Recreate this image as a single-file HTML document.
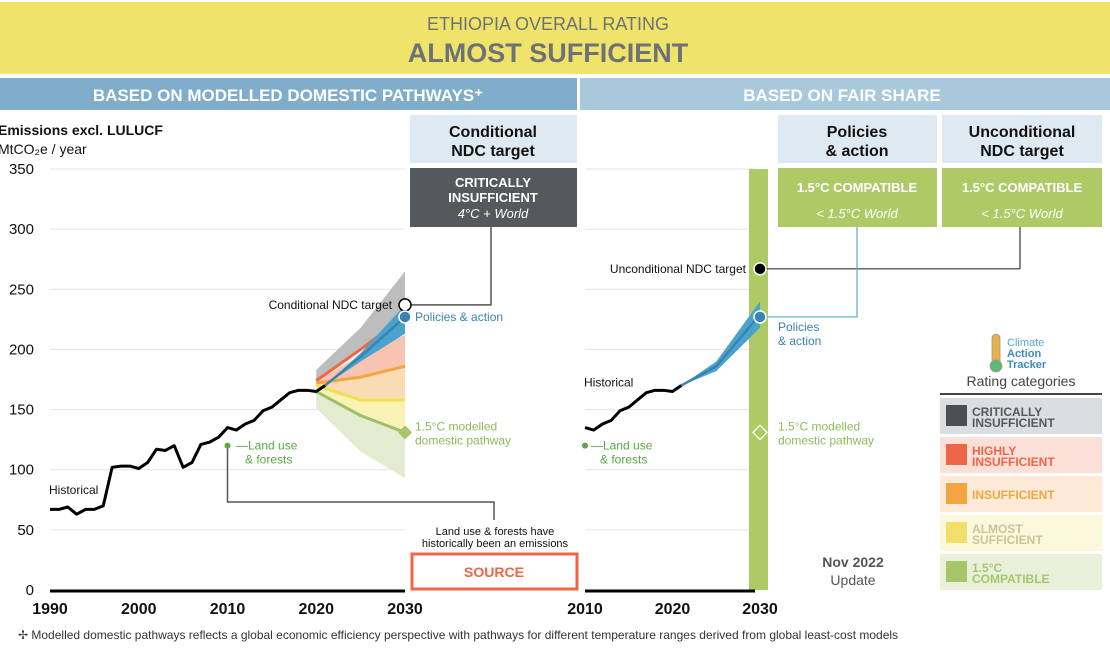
<!DOCTYPE html>
<html><head><meta charset="utf-8"><style>
body{margin:0;width:1110px;height:650px;overflow:hidden;background:#fff;font-family:"Liberation Sans",sans-serif}
svg{display:block}
text{font-family:"Liberation Sans",sans-serif}
</style></head><body>
<svg id="c" width="1110" height="650" viewBox="0 0 1110 650" xmlns="http://www.w3.org/2000/svg">
<rect x="0" y="2" width="1110" height="72" fill="#f0e36a"/>
<text x="548" y="30" text-anchor="middle" font-size="18" fill="#6d7277">ETHIOPIA OVERALL RATING</text>
<text x="548" y="62" text-anchor="middle" font-size="27" font-weight="bold" fill="#6d7277">ALMOST SUFFICIENT</text>
<rect x="0" y="78" width="577" height="32" fill="#80adc9"/>
<text x="288" y="101" text-anchor="middle" font-size="17" font-weight="bold" fill="#fff">BASED ON MODELLED DOMESTIC PATHWAYS⁺</text>
<rect x="580" y="78" width="530" height="32" fill="#a8c9dc"/>
<text x="842" y="101" text-anchor="middle" font-size="17" font-weight="bold" fill="#fff">BASED ON FAIR SHARE</text>
<text x="-2" y="135" font-size="14" font-weight="bold" fill="#111">Emissions excl. LULUCF</text>
<text x="-2" y="154" font-size="14" fill="#111">MtCO₂e / year</text>
<rect x="410" y="115" width="167" height="48" fill="#dfe9f1"/>
<text x="493" y="137" text-anchor="middle" font-size="16" font-weight="bold" fill="#111">Conditional</text>
<text x="493" y="156" text-anchor="middle" font-size="16" font-weight="bold" fill="#111">NDC target</text>
<rect x="410" y="168" width="167" height="59" fill="#55595c"/>
<text x="493" y="187" text-anchor="middle" font-size="13" font-weight="bold" fill="#fff">CRITICALLY</text>
<text x="493" y="202" text-anchor="middle" font-size="13" font-weight="bold" fill="#fff">INSUFFICIENT</text>
<text x="493" y="218" text-anchor="middle" font-size="13" font-style="italic" fill="#fff">4°C + World</text>
<rect x="778" y="115" width="159" height="48" fill="#dfe9f1"/>
<text x="857" y="137" text-anchor="middle" font-size="16" font-weight="bold" fill="#111">Policies</text>
<text x="857" y="156" text-anchor="middle" font-size="16" font-weight="bold" fill="#111">&amp; action</text>
<rect x="942" y="115" width="160" height="48" fill="#dfe9f1"/>
<text x="1022" y="137" text-anchor="middle" font-size="16" font-weight="bold" fill="#111">Unconditional</text>
<text x="1022" y="156" text-anchor="middle" font-size="16" font-weight="bold" fill="#111">NDC target</text>
<rect x="778" y="168" width="159" height="59" fill="#afc966"/>
<text x="857" y="192" text-anchor="middle" font-size="13" font-weight="bold" fill="#fff">1.5°C COMPATIBLE</text>
<text x="857" y="218" text-anchor="middle" font-size="13" font-style="italic" fill="#fff">&lt; 1.5°C World</text>
<rect x="942" y="168" width="160" height="59" fill="#afc966"/>
<text x="1022" y="192" text-anchor="middle" font-size="13" font-weight="bold" fill="#fff">1.5°C COMPATIBLE</text>
<text x="1022" y="218" text-anchor="middle" font-size="13" font-style="italic" fill="#fff">&lt; 1.5°C World</text>
<g id="grid"></g>
<g id="plot"></g>
<g id="ann"></g>
<text x="495" y="535" text-anchor="middle" font-size="11" fill="#111">Land use &amp; forests have</text>
<text x="495" y="547" text-anchor="middle" font-size="11" fill="#111">historically been an emissions</text>
<rect x="412" y="554" width="165" height="35" fill="#fff" stroke="#ef6548" stroke-width="3"/>
<text x="494" y="577" text-anchor="middle" font-size="14" font-weight="bold" fill="#ef6548">SOURCE</text>
<text x="853" y="567" text-anchor="middle" font-size="14" font-weight="bold" fill="#555">Nov 2022</text>
<text x="853" y="585" text-anchor="middle" font-size="14" fill="#555">Update</text>
<g>
<rect x="992" y="334" width="8" height="30" rx="4" fill="#e8b04a" stroke="#999" stroke-width="0.8"/>
<circle cx="996" cy="366" r="6" fill="#5fb87a" stroke="#999" stroke-width="0.8"/>
<text x="1007" y="346" font-size="11" fill="#5aa8c8">Climate</text>
<text x="1007" y="357" font-size="11" font-weight="bold" fill="#3a8bbf">Action</text>
<text x="1007" y="368" font-size="11" font-weight="bold" fill="#3a8bbf">Tracker</text>
</g>
<text x="1021" y="386" text-anchor="middle" font-size="14" fill="#444">Rating categories</text>
<line x1="940" y1="394" x2="1102" y2="394" stroke="#444" stroke-width="2"/>
<g id="legend"></g>
<text x="18" y="639" font-size="12" fill="#333">✢  Modelled domestic pathways reflects a global economic efficiency perspective with pathways for different temperature ranges derived from global least-cost models</text>
</svg>
<script>
const years=[1990,1991,1992,1993,1994,1995,1996,1997,1998,1999,2000,2001,2002,2003,2004,2005,2006,2007,2008,2009,2010,2011,2012,2013,2014,2015,2016,2017,2018,2019,2020,2021];
const historical=[67,67,69,63,67,67,70,102,103,103,101,106,117,116,120,102,106,121,123,127,135,133,138,141,149,152,158,164,166,166,165,170];
const projYears=[2020,2025,2030];
const greyTop=[183,218,265];
const redLine=[174,200,228];
const salmonTop=[174,195,212];
const orangeLine=[172,177,186];
const yellowLine=[170,158,158];
const greenLine=[165,145,131];
const greenLow=[151,115,93];
const blueYears=[2021,2025,2030];
const blueUpper=[170,197,237];
const blueLower=[170,190,213];
const blueMid=[170,194,227];
const rBlueUpper=[170,190,240];
const rBlueLower=[170,182,218];
const rBlueMid=[170,186,229];
const condNDC=237, policies2030=227, uncondNDC=267, pathway15=131;
const yTicks=[0,50,100,150,200,250,300,350];
const xTicksL=[1990,2000,2010,2020,2030];
const xTicksR=[2010,2020,2030];
const legendLabels=[["CRITICALLY","INSUFFICIENT"],["HIGHLY","INSUFFICIENT"],["INSUFFICIENT"],["ALMOST","SUFFICIENT"],["1.5°C","COMPATIBLE"]];

const NS="http://www.w3.org/2000/svg";
const y=v=>590-v*421/350;
const xL=t=>50+(t-1990)*355/40;
const xR=t=>585+(t-2010)*175/20;
function mk(tag,attrs,parent,txt){const e=document.createElementNS(NS,tag);for(const k in attrs)e.setAttribute(k,attrs[k]);if(txt!==undefined)e.textContent=txt;document.getElementById(parent).appendChild(e);return e;}
const pts=(xf,xs,vs)=>xs.map((t,i)=>xf(t)+","+y(vs[i])).join(" ");
const band=(xf,xs,up,lo)=>pts(xf,xs,up)+" "+pts(xf,xs.slice().reverse(),lo.slice().reverse());

yTicks.forEach(v=>{
 if(v>0){let g=mk('line',{x1:50,x2:405,y1:y(v),y2:y(v),stroke:'#e4e4e4','stroke-width':1},'grid');
 let g2=mk('line',{x1:585,x2:755,y1:y(v),y2:y(v),stroke:'#e4e4e4','stroke-width':1},'grid');}
 let t=mk('text',{x:34,y:y(v)+5,'text-anchor':'end','font-size':15,fill:'#111'},'grid',v);
 
});
xTicksL.forEach(v=>{let t=mk('text',{x:xL(v),y:614,'text-anchor':'middle','font-size':16,'font-weight':'bold',fill:'#111'},'grid',v);});
xTicksR.forEach(v=>{let t=mk('text',{x:xR(v),y:614,'text-anchor':'middle','font-size':16,'font-weight':'bold',fill:'#111'},'grid',v);});

let gb=mk('rect',{x:749,y:169,width:19,height:421,fill:'#afc966'},'plot');

let e;
e=mk('polygon',{points:band(xL,projYears,greyTop,redLine),fill:'#bdbdbd'},'plot');
e=mk('polygon',{points:band(xL,projYears,salmonTop,orangeLine),fill:'#f7c4b2'},'plot');
e=mk('polygon',{points:band(xL,projYears,orangeLine,yellowLine),fill:'#f9dcb4'},'plot');
e=mk('polygon',{points:band(xL,projYears,yellowLine,greenLine),fill:'#f8f2b4'},'plot');
e=mk('polygon',{points:band(xL,projYears,greenLine,greenLow),fill:'#e3ecd0'},'plot');
[[redLine,'#ef6548','red-line'],[orangeLine,'#f2a541','orange-line'],[yellowLine,'#f0e050','yellow-line'],[greenLine,'#9fc06a','green-line']].forEach(([d,c,n])=>{
 let l=mk('polyline',{points:pts(xL,projYears,d),fill:'none',stroke:c,'stroke-width':3},'plot');});
e=mk('polygon',{points:band(xL,blueYears,blueUpper,blueLower),fill:'#4aa3cc'},'plot');
e=mk('polyline',{points:pts(xL,blueYears,blueMid),fill:'none',stroke:'#3a83b0','stroke-width':2.5},'plot');
e=mk('polygon',{points:band(xR,blueYears,rBlueUpper,rBlueLower),fill:'#4aa3cc'},'plot');
e=mk('polyline',{points:pts(xR,blueYears,rBlueMid),fill:'none',stroke:'#3a83b0','stroke-width':2.5},'plot');
e=mk('polyline',{points:pts(xL,years,historical),fill:'none',stroke:'#000','stroke-width':3,'stroke-linejoin':'round'},'plot');
const ri=years.indexOf(2010);
e=mk('polyline',{points:pts(xR,years.slice(ri),historical.slice(ri)),fill:'none',stroke:'#000','stroke-width':3,'stroke-linejoin':'round'},'plot');
e=mk('line',{x1:50,x2:405,y1:591,y2:591,stroke:'#000','stroke-width':3},'plot');
e=mk('line',{x1:585,x2:755,y1:591,y2:591,stroke:'#000','stroke-width':3},'plot');

mk('polyline',{points:`${xL(2030)+6},${y(condNDC)} 491,${y(condNDC)} 491,227`,fill:'none',stroke:'#555','stroke-width':1.5},'ann');
mk('polyline',{points:`${xL(2010)},${y(120)} ${xL(2010)},502 494,502 494,520`,fill:'none',stroke:'#555','stroke-width':1.5},'ann');
e=mk('circle',{cx:xL(2030),cy:y(condNDC),r:6,fill:'#fff',stroke:'#000','stroke-width':1.5},'ann');
e=mk('circle',{cx:xL(2030),cy:y(policies2030),r:6,fill:'#3a83b0',stroke:'#fff','stroke-width':1.5},'ann');
e=mk('rect',{x:xL(2030)-5,y:y(pathway15)-5,width:10,height:10,fill:'#a7c66a',transform:`rotate(45 ${xL(2030)} ${y(pathway15)})`},'ann');
e=mk('circle',{cx:xL(2010),cy:y(120),r:3,fill:'#5aa845'},'ann');
mk('text',{x:392,y:y(condNDC)+4,'text-anchor':'end','font-size':12,fill:'#111'},'ann','Conditional NDC target');
mk('text',{x:415,y:y(policies2030)+4,'font-size':12,fill:'#3a83b0'},'ann','Policies & action');
mk('text',{x:415,y:y(pathway15)-2,'font-size':12,fill:'#8fba5a'},'ann','1.5°C modelled');
mk('text',{x:415,y:y(pathway15)+12,'font-size':12,fill:'#8fba5a'},'ann','domestic pathway');
mk('text',{x:236,y:y(120)+4,'font-size':12,fill:'#5aa845'},'ann','—Land use');
mk('text',{x:245,y:y(120)+18,'font-size':12,fill:'#5aa845'},'ann','& forests');
mk('text',{x:49,y:y(80),'font-size':12,fill:'#111'},'ann','Historical');
mk('line',{x1:xR(2030),x2:1020,y1:y(uncondNDC),y2:y(uncondNDC),stroke:'#333','stroke-width':1.2},'ann');
mk('line',{x1:1020,x2:1020,y1:y(uncondNDC),y2:227,stroke:'#333','stroke-width':1.2},'ann');
mk('polyline',{points:`${xR(2030)},${y(policies2030)} 857,${y(policies2030)} 857,227`,fill:'none',stroke:'#5aa8d0','stroke-width':1.2},'ann');
e=mk('circle',{cx:xR(2030),cy:y(uncondNDC),r:6,fill:'#000',stroke:'#fff','stroke-width':1.5},'ann');
e=mk('circle',{cx:xR(2030),cy:y(policies2030),r:6,fill:'#3a83b0',stroke:'#fff','stroke-width':1.5},'ann');
e=mk('rect',{x:xR(2030)-5,y:y(pathway15)-5,width:10,height:10,fill:'none',stroke:'#fff','stroke-width':1.3,transform:`rotate(45 ${xR(2030)} ${y(pathway15)})`},'ann');
mk('circle',{cx:585,cy:y(120),r:3,fill:'#5aa845'},'ann');
mk('text',{x:746,y:y(uncondNDC)+4,'text-anchor':'end','font-size':12,fill:'#111'},'ann','Unconditional NDC target');
mk('text',{x:778,y:y(policies2030)+14,'font-size':12,fill:'#3a83b0'},'ann','Policies');
mk('text',{x:778,y:y(policies2030)+28,'font-size':12,fill:'#3a83b0'},'ann','& action');
mk('text',{x:778,y:y(pathway15)-2,'font-size':12,fill:'#8fba5a'},'ann','1.5°C modelled');
mk('text',{x:778,y:y(pathway15)+12,'font-size':12,fill:'#8fba5a'},'ann','domestic pathway');
mk('text',{x:591,y:y(120)+4,'font-size':12,fill:'#5aa845'},'ann','—Land use');
mk('text',{x:600,y:y(120)+18,'font-size':12,fill:'#5aa845'},'ann','& forests');
mk('text',{x:584,y:y(164)-6,'font-size':12,fill:'#111'},'ann','Historical');

const lgBg=['#dcdde0','#fbe0d8','#fdebd8','#fcf8dc','#e9f0da'];
const lgSw=['#4b5053','#ef6548','#f2a541','#f0e06a','#a7c66a'];
const lgTx=['#555a5c','#ef6548','#f2a541','#c9c49a','#a7c66a'];
const lgY=[398,437,476,515,554];
legendLabels.forEach((lab,i)=>{
 let r=mk('rect',{x:940,y:lgY[i],width:162,height:36,fill:lgBg[i]},'legend');
 
 mk('rect',{x:946,y:lgY[i]+7,width:21,height:21,fill:lgSw[i]},'legend');
 if(lab.length===1)mk('text',{x:972,y:lgY[i]+23,'font-size':12,'font-weight':'bold',fill:lgTx[i]},'legend',lab[0]);
 else{mk('text',{x:972,y:lgY[i]+18,'font-size':12,'font-weight':'bold',fill:lgTx[i]},'legend',lab[0]);
 mk('text',{x:972,y:lgY[i]+29,'font-size':12,'font-weight':'bold',fill:lgTx[i]},'legend',lab[1]);}
});
</script>
</body></html>
